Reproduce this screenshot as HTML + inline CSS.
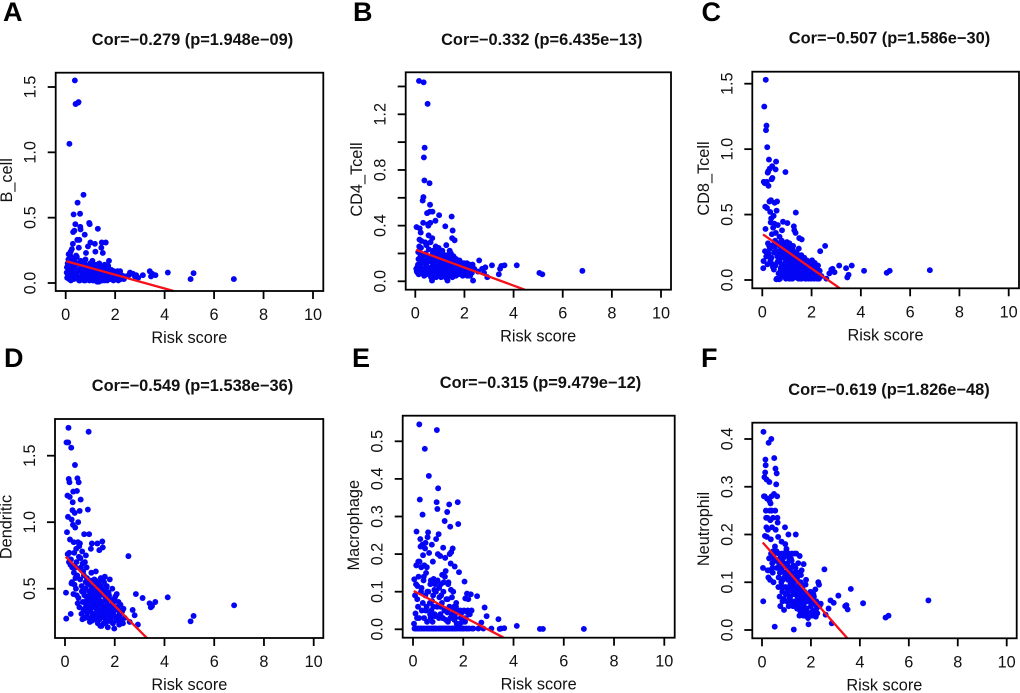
<!DOCTYPE html>
<html lang="en">
<head>
<meta charset="utf-8">
<title>Immune cell correlation with risk score</title>
<style>
html,body{margin:0;padding:0;background:#fff;width:1020px;height:693px;overflow:hidden}
svg{display:block;filter:blur(0.3px)}
text{font-family:"Liberation Sans",Arial,sans-serif;fill:#111}
</style>
</head>
<body>
<svg id="figure" xmlns="http://www.w3.org/2000/svg" width="1020" height="693" viewBox="0 0 1020 693"></svg>
<script>
const riskScores = [
.04,.05,.06,.08,.10,.12,.13,.14,.15,.17,
.18,.19,.20,.22,.23,.24,.25,.26,.27,.29,
.30,.31,.32,.33,.35,.36,.37,.38,.39,.40,
.41,.42,.44,.45,.46,.47,.48,.49,.50,.52,
.53,.54,.55,.56,.58,.59,.60,.61,.63,.64,
.66,.67,.69,.70,.72,.73,.75,.77,.79,.80,
.82,.84,.86,.88,.90,.92,.94,.95,.97,.99,
1.00,1.02,1.04,1.06,1.08,1.10,1.12,1.14,1.16,1.18,
1.20,1.22,1.24,1.26,1.28,1.30,1.32,1.34,1.36,1.38,
1.40,1.42,1.44,1.46,1.48,1.50,1.52,1.54,1.56,1.58,
1.60,1.62,1.64,1.66,1.68,1.70,1.72,1.75,1.78,1.80,
1.83,1.85,1.88,1.90,1.93,1.95,1.98,2.00,2.03,2.05,
2.08,2.10,2.13,2.15,2.18,2.20,2.23,2.26,2.30,2.33,
2.35,2.40,2.55,2.60,2.72,2.80,2.85,2.93,3.12,3.40,
3.45,3.50,3.63,4.13,5.05,5.17,6.80,
.11,.16,.21,.28,.34,.43,.51,.57,.62,.68,
.71,.74,.76,.78,.81,.83,.85,.87,.89,.91,
.93,.96,.98,1.01,1.03,1.05,1.07,1.09,1.11,1.13,
1.15,1.17,1.19,1.21,1.23,1.25,1.27,1.29,1.31,1.33,
1.35,1.37,1.39,1.41,1.43,1.45,1.47,1.49,1.51,1.53,
1.55,1.57,1.59,1.61,1.63,1.65,1.67,1.69,1.71,1.74,
1.77,1.82,1.87,1.92,1.97,2.02,2.07,2.12,2.17,2.22
];
const bCell = [
.08,.12,.04,.15,.06,.22,.10,.03,1.065,.13,
.21,.08,.24,.05,.16,.11,.26,.07,.19,.30,
.39,.12,.525,.03,.40,.18,1.55,.09,.45,1.37,
.14,.21,.06,.20,.10,.33,.615,.15,1.38,1.385,
.27,.02,.33,.10,.53,.43,.41,.17,.05,.12,
.09,.14,.04,.16,.675,.07,.11,.37,.02,.18,
.23,.06,.13,.10,.28,.03,.08,.46,.45,.15,
.31,.05,.12,.07,.17,.02,.10,.14,.04,.30,
.24,.06,.13,.03,.09,.415,.12,.01,.15,.05,
.10,.07,.27,.31,.02,.23,.12,.05,.09,.14,
.03,.31,.08,.11,.02,.07,.13,.17,.04,.09,
.06,.10,.03,.07,.02,.09,.05,.08,.03,.06,
.04,.09,.02,.07,.05,.09,.03,.06,.04,.05,
.03,.05,.06,.08,.07,.05,.06,.04,.06,.09,
.05,.07,.06,.08,.03,.075,.03,
.18,.07,.02,.14,.10,.05,.09,.02,.13,.06,
.12,.02,.15,.08,.13,.03,.10,.05,.12,.04,
.11,.02,.07,.13,.04,.09,.14,.06,.11,.02,
.08,.13,.03,.10,.06,.14,.01,.09,.05,.11,
.03,.08,.13,.05,.10,.02,.07,.12,.04,.09,
.06,.02,.11,.05,.09,.03,.08,.12,.05,.10,
.06,.03,.08,.05,.07,.03,.06,.08,.04,.06
];
const cd4Tcell = [
.09,.39,.07,.10,.06,.21,.16,.05,1.44,.30,
.38,.08,.11,.35,.24,.17,.29,.13,.06,.19,
.58,.09,.42,.605,.89,.04,.725,.96,.15,.28,
.07,.20,.12,.26,.05,.18,.49,.10,1.275,.41,
.40,.33,.23,.08,.705,.50,.55,.42,.14,.03,
.10,.17,.31,.50,.06,.22,.12,.09,.18,.15,
.435,.08,.21,.13,.05,.17,.11,.24,.475,.07,
.14,.09,.19,.05,.12,.22,.16,.07,.13,.04,
.10,.395,.17,.26,.02,.12,.08,.19,.05,.15,
.22,.10,.06,.18,.465,.31,.365,.13,.08,.17,
.295,.04,.11,.16,.07,.13,.09,.05,.12,.15,
.08,.13,.06,.11,.04,.10,.13,.07,.05,.11,
.09,.13,.05,.10,.07,.12,.04,.08,.06,.12,
.005,.09,.07,.15,.09,.06,.10,.03,.115,.05,
.09,.11,.115,.115,.06,.05,.075,
.12,.25,.18,.08,1.43,.14,.06,.16,.28,.005,
.20,.04,.15,.11,.07,.25,.03,.18,.10,.22,
.14,.06,.20,.09,.16,.03,.12,.18,.07,.15,
.10,.19,.06,.14,.03,.17,.09,.13,.005,.11,
.07,.16,.12,.04,.14,.20,.09,.15,.03,.11,
.18,.06,.12,.09,.15,.04,.11,.08,.14,.06,
.10,.14,.05,.09,.12,.06,.10,.04,.08,.11
];
const cd8Tcell = [
.09,.145,.75,1.325,.74,.56,.39,1.53,1.145,1.18,
.75,.55,1.015,.82,.28,.83,.72,.20,.92,.60,
.85,.24,.52,.15,.61,.47,.17,.77,.35,.87,
.78,.12,.40,.27,.49,.08,.21,.43,.59,.30,
.11,.845,.36,.905,.53,.01,.60,.18,.42,.28,
.05,.22,.14,.33,.01,.26,.09,.17,.30,.38,
.12,.445,.20,.07,.27,.03,.825,.16,.24,.10,
.29,.435,.06,.21,.13,.28,.04,.18,.25,.09,
.15,.01,.23,.11,.41,.38,.19,.06,.515,.14,
.20,.03,.10,.17,.24,.32,.08,.13,.01,.19,
.31,.06,.14,.02,.10,.17,.05,.12,.01,.15,
.08,.11,.01,.14,.05,.09,.01,.12,.07,.04,
.10,.01,.13,.06,.02,.09,.04,.11,.01,.07,
.22,.03,.26,.01,.05,.08,.085,.06,.11,.09,
.02,.04,.11,.07,.055,.07,.075,
.22,.18,.12,.26,.44,.10,.25,.005,.14,.005,
.19,.07,.29,.12,.24,.04,.17,.22,.09,.26,
.13,.01,.19,.27,.08,.23,.11,.01,.16,.06,
.21,.12,.01,.18,.07,.26,.13,.03,.17,.09,
.36,.02,.21,.11,.07,.15,.01,.18,.09,.13,
.05,.16,.01,.11,.07,.15,.03,.09,.13,.01,
.10,.05,.13,.02,.08,.15,.03,.09,.06,.01
];
const dendritic = [
.47,.275,1.60,.925,1.20,1.04,1.60,1.71,1.325,.77,
1.30,1.19,.87,.68,.31,.72,1.56,.54,1.02,.66,
1.09,1.15,.98,1.23,.85,.62,.77,.53,1.07,1.43,
.96,.58,.50,.80,.70,.45,1.235,.60,1.33,.85,
1.00,.43,1.30,.74,.36,1.085,.84,.57,1.17,.66,
.31,.52,.78,.27,.40,.63,.47,.91,.35,.70,
.50,.75,.29,.58,.40,1.095,.36,1.68,.91,.45,
.25,.33,.80,.62,.84,.43,.30,.52,.38,.57,
.27,.44,.63,.35,.48,.84,.24,.55,.33,.79,
.41,.22,.58,.30,.50,.855,.81,.36,.24,.46,
.59,.33,.43,.26,.52,.38,.21,.47,.31,.57,
.42,.28,.37,.50,.24,.33,.20,.41,.29,.36,
.46,.26,.34,.40,.23,.31,.38,.27,.33,.24,
.35,.28,.745,.25,.34,.30,.46,.23,.43,.39,
.36,.37,.40,.435,.255,.295,.375,
.76,.70,.72,.55,.46,.66,.39,.82,.73,.48,
.69,.33,.60,.45,.28,.55,.37,.66,.42,.32,
.53,.28,.48,.40,.56,.35,.50,.26,.45,.37,
.31,.49,.40,.55,.28,.42,.52,.34,.46,.30,
.38,.56,.27,.45,.34,.52,.22,.40,.31,.48,
.37,.55,.28,.44,.34,.50,.25,.41,.30,.35,
.45,.33,.25,.39,.30,.44,.27,.35,.29,.31
];
const macrophage = [
.015,.133,.002,.09,.042,.12,.17,.26,.002,.08,
.115,.002,.06,.14,.002,.03,.545,.18,.345,.24,
.22,.002,.10,.165,.05,.002,.225,.305,.07,.197,
.002,.13,.03,.17,.002,.48,.215,.09,.23,.15,
.002,.06,.165,.02,.245,.002,.258,.10,.408,.203,
.002,.07,.12,.03,.002,.05,.225,.002,.18,.09,
.134,.002,.04,.12,.002,.24,.338,.53,.32,.20,
.375,.253,.11,.002,.195,.06,.09,.002,.145,.03,
.217,.125,.002,.288,.19,.155,.05,.002,.312,.08,
.12,.002,.332,.20,.273,.175,.205,.04,.002,.215,
.10,.002,.06,.167,.03,.002,.07,.05,.338,.28,
.152,.002,.05,.03,.002,.045,.02,.002,.05,.127,
.082,.03,.002,.095,.05,.08,.002,.04,.093,.05,
.002,.002,.088,.002,.018,.002,.058,.035,.002,.027,
.001,.002,.003,.009,.001,.001,.001,
.002,.03,.18,.002,.11,.14,.05,.10,.002,.04,
.13,.002,.075,.02,.06,.002,.105,.035,.002,.10,
.002,.06,.13,.002,.03,.085,.002,.04,.12,.002,
.07,.002,.03,.10,.002,.05,.14,.002,.025,.08,
.002,.045,.02,.125,.002,.06,.002,.03,.105,.002,
.085,.002,.03,.05,.002,.025,.04,.002,.06,.015,
.002,.045,.015,.002,.03,.002,.02,.002,.045,.002
];
const neutrophil = [
.13,.06,.415,.28,.32,.197,.33,.357,.345,.235,
.215,.315,.195,.235,.125,.21,.275,.11,.392,.15,
.31,.27,.25,.105,.265,.19,.16,.40,.28,.25,
.215,.14,.12,.235,.165,.10,.15,.285,.36,.007,
.175,.25,.338,.21,.305,.165,.328,.13,.235,.225,
.195,.09,.16,.14,.07,.12,.05,.155,.10,.185,
.13,.06,.15,.09,.042,.12,.215,.18,.075,.165,
.17,.11,.14,.085,.20,.16,.07,.125,.095,.15,
.06,.16,.105,.08,.135,.001,.055,.12,.09,.20,
.16,.075,.11,.05,.14,.09,.065,.155,.04,.10,
.07,.125,.035,.085,.05,.138,.06,.03,.095,.105,
.045,.07,.025,.012,.06,.035,.08,.05,.03,.065,
.04,.075,.03,.055,.085,.028,.045,.035,.10,.095,
.05,.055,.127,.032,.045,.062,.014,.057,.072,.05,
.052,.043,.086,.056,.026,.03,.062,
.28,.25,.275,.125,.23,.13,.16,.145,.28,.11,
.135,.15,.09,.125,.16,.08,.105,.14,.065,.11,
.155,.09,.12,.06,.135,.08,.105,.05,.15,.115,
.07,.13,.09,.145,.06,.115,.05,.10,.075,.16,
.06,.13,.085,.105,.045,.07,.12,.055,.095,.03,
.08,.05,.115,.06,.09,.04,.07,.03,.055,.08,
.07,.04,.06,.03,.075,.055,.04,.07,.035,.06
];
const xTickValues = [0,2,4,6,8,10];
const xTickLabels = ['0','2','4','6','8','10'];
const bCellTicks = [0,0.5,1,1.5];
const bCellTickLabels = ['0.0','0.5','1.0','1.5'];
const cd4TcellTicks = [0,0.2,0.4,0.6,0.8,1,1.2,1.4];
const cd4TcellTickLabels = ['0.0','','0.4','','0.8','','1.2',''];
const cd8TcellTicks = [0,0.5,1,1.5];
const cd8TcellTickLabels = ['0.0','0.5','1.0','1.5'];
const dendriticTicks = [0.5,1,1.5];
const dendriticTickLabels = ['0.5','1.0','1.5'];
const macrophageTicks = [0,0.1,0.2,0.3,0.4,0.5];
const macrophageTickLabels = ['0.0','0.1','0.2','0.3','0.4','0.5'];
const neutrophilTicks = [0,0.1,0.2,0.3,0.4];
const neutrophilTickLabels = ['0.0','0.1','0.2','0.3','0.4'];
const fitIntercepts = [0.168,0.228,0.352,0.745,0.103,0.185];
const fitSlopes = [-0.0525,-0.0647,-0.132,-0.187,-0.0347,-0.058];
const titles = ['Cor=\u22120.279 (p=1.948e\u221209)','Cor=\u22120.332 (p=6.435e\u221213)','Cor=\u22120.507 (p=1.586e\u221230)','Cor=\u22120.549 (p=1.538e\u221236)','Cor=\u22120.315 (p=9.479e\u221212)','Cor=\u22120.619 (p=1.826e\u221248)'];

const SVG_NS = 'http://www.w3.org/2000/svg';
const figure = document.getElementById('figure');

function make(parent, tag, attrs, content) {
  const el = document.createElementNS(SVG_NS, tag);
  for (const k in attrs) el.setAttribute(k, attrs[k]);
  if (content !== undefined) el.textContent = content;
  parent.appendChild(el);
  return el;
}

function drawPanel(p, index) {
  const xScale = v => p.xZero + v * (p.xTen - p.xZero) / 10;
  const yScale = v => p.yRefA + (v - p.refA) * (p.yRefB - p.yRefA) / (p.refB - p.refA);
  const yInvert = py => p.refA + (py - p.yRefA) * (p.refB - p.refA) / (p.yRefB - p.yRefA);
  const left = p.box[0], top = p.box[1], right = p.box[2], bottom = p.box[3];

  const g = make(figure, 'g', {});
  
  

  const letter = make(g, 'text', {x: p.letterX, y: p.letterY, 'font-size': 27, 'font-weight': 'bold', style: 'fill:#000'}, p.letter);
  
  

  const title = make(g, 'text', {x: p.titleX, y: p.titleY, 'font-size': 16.4, 'font-weight': 'bold', 'text-anchor': 'middle', 'dominant-baseline': 'central'}, titles[index]);
  
  

  const dots = make(g, 'g', {fill: '#0505f5'});
  
  
  riskScores.forEach((x, i) => {
    const dot = make(dots, 'circle', {cx: xScale(x).toFixed(2), cy: yScale(p.values[i]).toFixed(2), r: 2.95});
    
    
  });

  const intercept = fitIntercepts[index], slope = fitSlopes[index];
  const fitStart = 0.03;
  const fitEnd = (yInvert(bottom) - intercept) / slope;
  const fit = make(g, 'line', {
    x1: xScale(fitStart), y1: yScale(intercept + slope * fitStart),
    x2: xScale(fitEnd), y2: yScale(intercept + slope * fitEnd),
    stroke: '#f5101a', 'stroke-width': 2.3
  });
  
  

  const frame = make(g, 'rect', {x: left, y: top, width: right - left, height: bottom - top, fill: 'none', stroke: '#000', 'stroke-width': 1.8});
  
  

  const xAxis = make(g, 'g', {});
  
  
  xTickValues.forEach((v, i) => {
    const tick = make(xAxis, 'line', {x1: xScale(v), x2: xScale(v), y1: bottom, y2: bottom + 8, stroke: '#000', 'stroke-width': 1.8});
    
    
    const label = make(xAxis, 'text', {x: xScale(v), y: bottom + 24, 'font-size': 16.3, 'text-anchor': 'middle', 'dominant-baseline': 'central'}, xTickLabels[i]);
    
    
  });
  const xTitle = make(xAxis, 'text', {x: (xScale(0) + xScale(10)) / 2, y: bottom + 47, 'font-size': 16.3, 'text-anchor': 'middle', 'dominant-baseline': 'central'}, 'Risk score');
  
  

  const yAxis = make(g, 'g', {});
  
  
  p.ticks.forEach((v, i) => {
    const ty = yScale(v);
    const tick = make(yAxis, 'line', {x1: left - 8, x2: left, y1: ty, y2: ty, stroke: '#000', 'stroke-width': 1.8});
    
    
    if (p.tickLabels[i]) {
      const lx = left - 25;
      const label = make(yAxis, 'text', {x: lx, y: ty, 'font-size': 16.3, 'text-anchor': 'middle', 'dominant-baseline': 'central', transform: 'rotate(-90 ' + lx + ' ' + ty + ')'}, p.tickLabels[i]);
      
      
    }
  });
  const tx = left - 48.5, ty = (top + bottom) / 2 - 1.5;
  const yTitle = make(yAxis, 'text', {x: tx, y: ty, 'font-size': 16.3, 'text-anchor': 'middle', 'dominant-baseline': 'central', transform: 'rotate(-90 ' + tx + ' ' + ty + ')'}, p.yLabel);
  
  
}

drawPanel({letter:'A', letterX:3, letterY:21, titleX:192.5, titleY:40, yLabel:'B_cell', values:bCell, ticks:bCellTicks, tickLabels:bCellTickLabels,
  box:[55.7,72.7,323.3,291], xZero:65.7, xTen:313, refA:0, yRefA:283, refB:1.5, yRefB:87}, 0);
drawPanel({letter:'B', letterX:353, letterY:21, titleX:541.8, titleY:40, yLabel:'CD4_Tcell', values:cd4Tcell, ticks:cd4TcellTicks, tickLabels:cd4TcellTickLabels,
  box:[405.7,72.3,671,289.7], xZero:415.3, xTen:661, refA:0, yRefA:281.3, refB:1.2, yRefB:114.3}, 1);
drawPanel({letter:'C', letterX:701.5, letterY:21, titleX:889.5, titleY:38.7, yLabel:'CD8_Tcell', values:cd8Tcell, ticks:cd8TcellTicks, tickLabels:cd8TcellTickLabels,
  box:[752.3,71.7,1019,288.3], xZero:762.3, xTen:1008.7, refA:0, yRefA:280, refB:1.5, yRefB:83.7}, 2);
drawPanel({letter:'D', letterX:4, letterY:367, titleX:192.5, titleY:386, yLabel:'Dendritic', values:dendritic, ticks:dendriticTicks, tickLabels:dendriticTickLabels,
  box:[55,419,323.3,638], xZero:65, xTen:313.7, refA:0.5, yRefA:588.7, refB:1.5, yRefB:455.7}, 3);
drawPanel({letter:'E', letterX:352, letterY:367, titleX:540.5, titleY:383, yLabel:'Macrophage', values:macrophage, ticks:macrophageTicks, tickLabels:macrophageTickLabels,
  box:[402.7,415.7,674.7,637.7], xZero:413, xTen:664.3, refA:0, yRefA:629.3, refB:0.5, yRefB:441.3}, 4);
drawPanel({letter:'F', letterX:701, letterY:367, titleX:889, titleY:390, yLabel:'Neutrophil', values:neutrophil, ticks:neutrophilTicks, tickLabels:neutrophilTickLabels,
  box:[752.3,422.7,1016.7,638.3], xZero:762, xTen:1006.7, refA:0, yRefA:630, refB:0.4, yRefB:439}, 5);
</script>
</body>
</html>
